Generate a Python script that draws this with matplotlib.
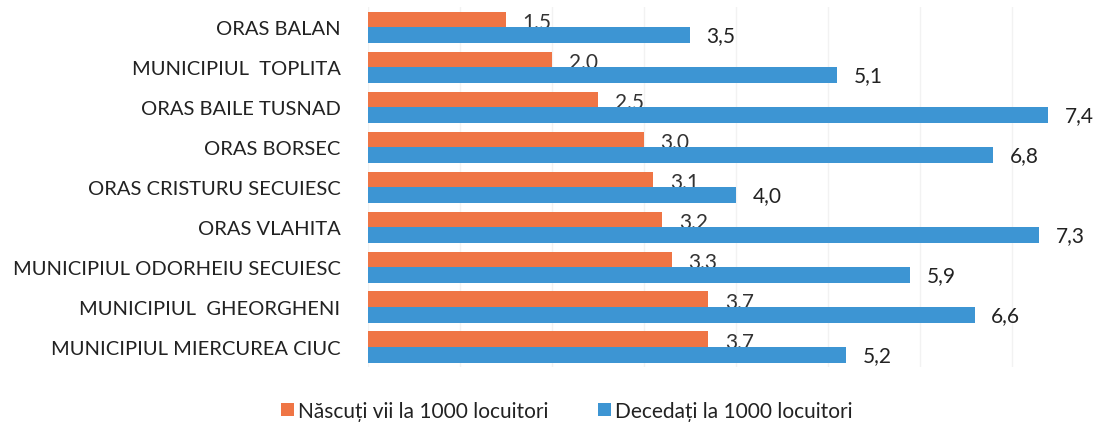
import matplotlib.pyplot as plt
import numpy as np

plt.rcParams['font.family'] = ['Lato', 'DejaVu Sans']

orase = ['ORAS BALAN', 'MUNICIPIUL  TOPLITA', 'ORAS BAILE TUSNAD', 'ORAS BORSEC',
         'ORAS CRISTURU SECUIESC', 'ORAS VLAHITA', 'MUNICIPIUL ODORHEIU SECUIESC',
         'MUNICIPIUL  GHEORGHENI', 'MUNICIPIUL MIERCUREA CIUC']
nascuti = [1.5, 2.0, 2.5, 3.0, 3.1, 3.2, 3.3, 3.7, 3.7]
decedati = [3.5, 5.1, 7.4, 6.8, 4.0, 7.3, 5.9, 6.6, 5.2]

c_nas = '#EF7545'
c_dec = '#3D95D3'

fig = plt.figure(figsize=(10.96, 4.31), dpi=100)
ax = fig.add_axes([0.336, 0.146, 0.654, 0.835])

y = np.arange(len(orase))
h = 0.39
b1 = ax.barh(y - h/2, nascuti, height=h, color=c_nas, zorder=3,
             label='Născuți vii la 1000 locuitori')
b2 = ax.barh(y + h/2, decedati, height=h, color=c_dec, zorder=3,
             label='Decedați la 1000 locuitori')

for i in range(len(orase)):
    ax.text(nascuti[i] + 0.18, y[i] - h/2 + 0.05, f'{nascuti[i]:.1f}'.replace('.', ','),
            va='center', ha='left', fontsize=15, color='#333333', zorder=2)
    ax.text(decedati[i] + 0.18, y[i] + h/2, f'{decedati[i]:.1f}'.replace('.', ','),
            va='center', ha='left', fontsize=15, color='#222222', zorder=2)

ax.set_ylim(len(orase) - 0.5, -0.5)
ax.set_xlim(0, 7.8)
ax.set_yticks(y)
ax.set_yticklabels(orase, fontsize=14.5, color='#222222')
ax.tick_params(axis='y', length=0, pad=20)
ax.set_xticks(np.arange(0, 8, 1))
ax.tick_params(axis='x', length=0, labelbottom=False)
ax.grid(axis='x', color='#f2f2f2', linewidth=1, zorder=0)
for s in ax.spines.values():
    s.set_visible(False)

fig.legend(handles=[b1, b2], loc='center', bbox_to_anchor=(0.517, 0.044), ncol=2,
           frameon=False, fontsize=15, handlelength=0.6, handleheight=0.6,
           handletextpad=0.2, columnspacing=2.4, labelcolor='#222222')

fig.savefig('out.png', dpi=100)
